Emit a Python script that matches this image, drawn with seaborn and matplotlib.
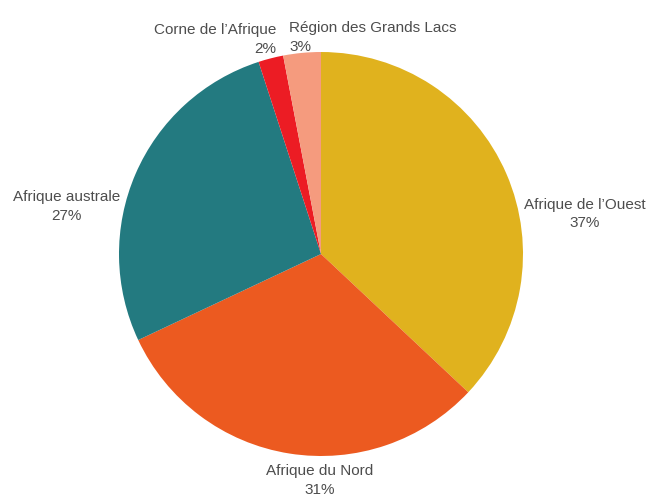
import matplotlib
matplotlib.use("Agg")
import matplotlib.pyplot as plt
import seaborn as sns

sns.set_theme(style="white")
plt.rcParams["font.family"] = ["Liberation Sans", "DejaVu Sans"]

# Share of each region (percent), clockwise from the top
regions = ["Afrique de l\u2019Ouest", "Afrique du Nord", "Afrique australe",
           "Corne de l\u2019Afrique", "Région des Grands Lacs"]
shares = [37, 31, 27, 2, 3]
colors = ["#E0B21E", "#EC5A20", "#237A80", "#EC1C24", "#F59B7E"]

# Label anchor placement per region: (x, y, ha, multialignment)
label_layout = [
    (1.005, 0.198, "left", "center"),
    (-0.005, -1.12, "center", "center"),
    (-0.995, 0.233, "right", "center"),
    (-0.223, 1.064, "right", "right"),
    (-0.158, 1.074, "left", "left"),
]

W, H = 647, 496
R = 202.0
cx, cy = 321.0, 254.0

fig = plt.figure(figsize=(W / 100, H / 100), dpi=100)
ax = fig.add_axes([0, 0, 1, 1])

ax.pie(shares, colors=colors, startangle=90, counterclock=False,
       radius=1.0, wedgeprops=dict(linewidth=0))

ax.set_xlim(-cx / R, (W - cx) / R)
ax.set_ylim(-(H - cy) / R, cy / R)
ax.set_aspect("equal")
ax.axis("off")

for name, val, (x, y, ha, ma) in zip(regions, shares, label_layout):
    ax.text(x, y, f"{name}\n{val}%", ha=ha, va="center", multialignment=ma,
            fontsize=11, color="#4d4d4d", linespacing=1.45)

fig.savefig("out.png", dpi=100, facecolor="white")
